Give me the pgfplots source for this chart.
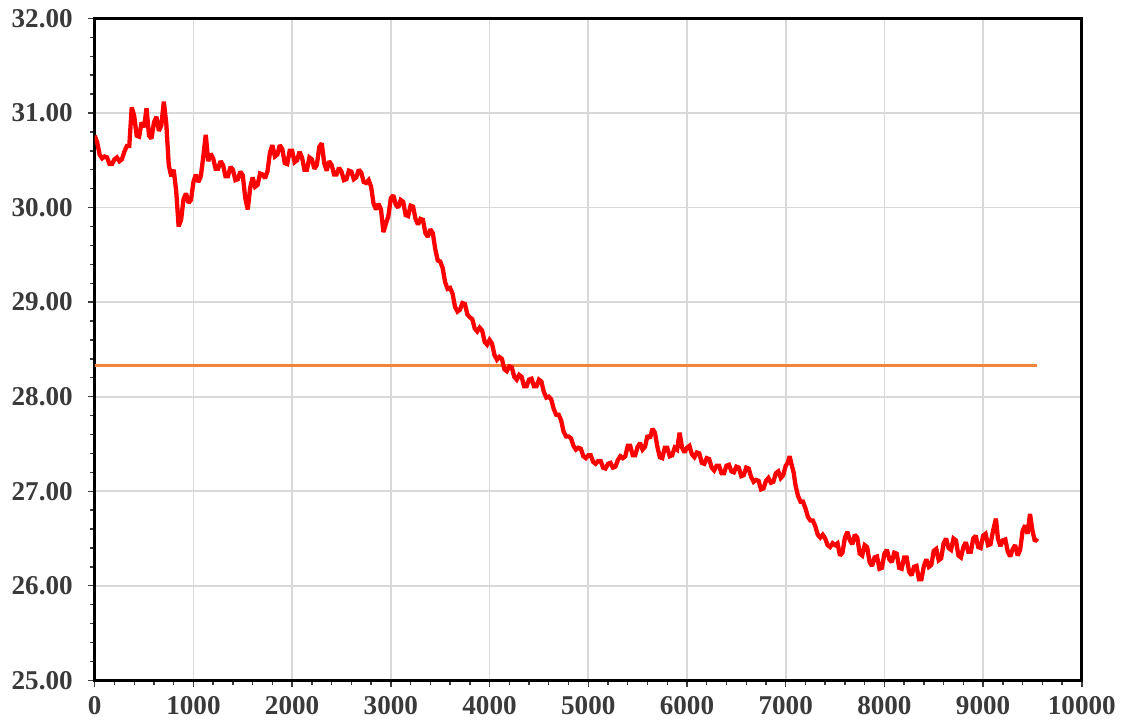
\documentclass[border=0pt]{standalone}
\usepackage{pgfplots}
\pgfplotsset{compat=1.18}
\usepackage{fontspec}
\setmainfont{Liberation Serif}
\definecolor{ticktext}{HTML}{3A3A3A}
\definecolor{gridgray}{HTML}{D9D9D9}
\definecolor{refline}{HTML}{F0843A}
\begin{document}
\begin{tikzpicture}
\begin{axis}[
  scale only axis,
  width=356.4pt, height=239pt,
  xmin=0, xmax=10000, ymin=25, ymax=32,
  xtick={0,1000,...,10000},
  ytick={25,26,...,32},
  scaled x ticks=false,
  minor x tick num=4,
  minor y tick num=4,
  tick align=outside,
  xtick pos=bottom, ytick pos=left,
  major tick length=2.4pt, minor tick length=1.6pt,
  tick style={ticktext, line width=0.5pt},
  grid=major,
  major grid style={gridgray, line width=0.6pt},
  axis line style={black, line width=1pt},
  /pgf/number format/assume math mode=true,
  ticklabel style={font=\fontsize{9.8}{11}\selectfont\bfseries, text=ticktext},
  yticklabel style={xshift=-2pt},
  yticklabel={\pgfmathprintnumber[fixed, fixed zerofill, precision=2]{\tick}},
  xticklabel={\pgfmathprintnumber[fixed, precision=0, 1000 sep={}]{\tick}},
  clip=true,
]
\addplot[refline, line width=1.1pt] coordinates {(0,28.33)(9550,28.33)};
\addplot[red, line width=1.55pt, line join=miter, miter limit=2] coordinates {
(0,30.76)(25,30.69)(50,30.56)(75,30.52)(100,30.54)(125,30.53)(150,30.46)(175,30.46)(200,30.51)(225,30.53)(250,30.49)(275,30.51)(300,30.59)(325,30.65)(350,30.65)(375,31.06)(400,30.97)(425,30.76)(450,30.75)(475,30.90)(500,30.85)(525,31.05)(550,30.76)(575,30.73)(600,30.90)(625,30.96)(650,30.81)(675,30.87)(700,31.12)(725,30.89)(750,30.45)(775,30.33)(800,30.40)(825,30.18)(850,29.80)(875,29.87)(900,30.09)(925,30.15)(950,30.05)(975,30.08)(1000,30.27)(1025,30.35)(1050,30.27)(1075,30.33)(1100,30.54)(1125,30.77)(1150,30.49)(1175,30.57)(1200,30.52)(1225,30.41)(1250,30.41)(1275,30.49)(1300,30.45)(1325,30.33)(1350,30.33)(1375,30.43)(1400,30.40)(1425,30.29)(1450,30.30)(1475,30.38)(1500,30.34)(1525,30.10)(1550,29.98)(1575,30.21)(1600,30.32)(1625,30.22)(1650,30.24)(1675,30.36)(1700,30.35)(1725,30.31)(1750,30.38)(1775,30.58)(1800,30.66)(1825,30.54)(1850,30.56)(1875,30.66)(1900,30.62)(1925,30.47)(1950,30.46)(1975,30.60)(2000,30.60)(2025,30.48)(2050,30.50)(2075,30.59)(2100,30.53)(2125,30.40)(2150,30.40)(2175,30.53)(2200,30.51)(2225,30.41)(2250,30.45)(2275,30.64)(2300,30.68)(2325,30.47)(2350,30.39)(2375,30.49)(2400,30.45)(2425,30.35)(2450,30.35)(2475,30.42)(2500,30.38)(2525,30.29)(2550,30.30)(2575,30.39)(2600,30.38)(2625,30.30)(2650,30.32)(2675,30.40)(2700,30.37)(2725,30.27)(2750,30.26)(2775,30.29)(2800,30.22)(2825,30.04)(2850,29.98)(2875,30.04)(2900,29.98)(2925,29.74)(2950,29.83)(2975,29.91)(3000,30.10)(3025,30.13)(3050,30.03)(3075,30.00)(3100,30.08)(3125,30.06)(3150,29.92)(3175,29.91)(3200,30.02)(3225,30.01)(3250,29.88)(3275,29.82)(3300,29.88)(3325,29.87)(3350,29.73)(3375,29.69)(3400,29.77)(3425,29.73)(3450,29.56)(3475,29.44)(3500,29.43)(3525,29.36)(3550,29.21)(3575,29.14)(3600,29.15)(3625,29.09)(3650,28.95)(3675,28.90)(3700,28.92)(3725,28.99)(3750,28.98)(3775,28.87)(3800,28.84)(3825,28.82)(3850,28.72)(3875,28.69)(3900,28.73)(3925,28.70)(3950,28.58)(3975,28.55)(4000,28.60)(4025,28.56)(4050,28.44)(4075,28.39)(4100,28.42)(4125,28.40)(4150,28.29)(4175,28.27)(4200,28.32)(4225,28.31)(4250,28.21)(4275,28.18)(4300,28.23)(4325,28.21)(4350,28.11)(4375,28.11)(4400,28.18)(4425,28.19)(4450,28.11)(4475,28.11)(4500,28.18)(4525,28.16)(4550,28.05)(4575,27.99)(4600,28.00)(4625,27.97)(4650,27.87)(4675,27.81)(4700,27.81)(4725,27.75)(4750,27.63)(4775,27.58)(4800,27.58)(4825,27.56)(4850,27.48)(4875,27.44)(4900,27.46)(4925,27.45)(4950,27.37)(4975,27.35)(5000,27.38)(5025,27.38)(5050,27.31)(5075,27.29)(5100,27.32)(5125,27.32)(5150,27.25)(5175,27.24)(5200,27.29)(5225,27.30)(5250,27.25)(5275,27.26)(5300,27.33)(5325,27.37)(5350,27.35)(5375,27.37)(5400,27.48)(5425,27.48)(5450,27.38)(5475,27.38)(5500,27.47)(5525,27.51)(5550,27.44)(5575,27.47)(5600,27.59)(5625,27.56)(5650,27.66)(5675,27.62)(5700,27.47)(5725,27.36)(5750,27.35)(5775,27.46)(5800,27.46)(5825,27.37)(5850,27.38)(5875,27.46)(5900,27.44)(5925,27.62)(5950,27.46)(5975,27.41)(6000,27.46)(6025,27.48)(6050,27.39)(6075,27.36)(6100,27.41)(6125,27.40)(6150,27.30)(6175,27.29)(6200,27.35)(6225,27.34)(6250,27.25)(6275,27.22)(6300,27.27)(6325,27.27)(6350,27.19)(6375,27.19)(6400,27.27)(6425,27.28)(6450,27.21)(6475,27.20)(6500,27.26)(6525,27.25)(6550,27.16)(6575,27.17)(6600,27.25)(6625,27.24)(6650,27.15)(6675,27.10)(6700,27.12)(6725,27.11)(6750,27.02)(6775,27.03)(6800,27.11)(6825,27.14)(6850,27.09)(6875,27.10)(6900,27.19)(6925,27.21)(6950,27.14)(6975,27.17)(7000,27.27)(7020,27.30)(7040,27.37)(7060,27.28)(7080,27.20)(7100,27.06)(7125,26.95)(7150,26.89)(7175,26.89)(7200,26.82)(7225,26.73)(7250,26.69)(7275,26.69)(7300,26.63)(7325,26.54)(7350,26.51)(7375,26.54)(7400,26.50)(7425,26.43)(7450,26.41)(7475,26.45)(7500,26.43)(7525,26.45)(7550,26.32)(7575,26.35)(7600,26.51)(7625,26.57)(7650,26.48)(7675,26.44)(7700,26.54)(7725,26.51)(7750,26.34)(7775,26.32)(7800,26.43)(7825,26.41)(7850,26.25)(7875,26.21)(7900,26.30)(7925,26.31)(7950,26.18)(7975,26.19)(8000,26.34)(8025,26.38)(8050,26.28)(8075,26.25)(8100,26.35)(8125,26.34)(8150,26.19)(8175,26.18)(8200,26.30)(8225,26.30)(8250,26.15)(8275,26.11)(8300,26.20)(8325,26.21)(8350,26.07)(8375,26.07)(8400,26.21)(8425,26.28)(8450,26.20)(8475,26.22)(8500,26.37)(8525,26.39)(8550,26.27)(8575,26.29)(8600,26.45)(8625,26.50)(8650,26.40)(8675,26.38)(8700,26.50)(8725,26.48)(8750,26.32)(8775,26.30)(8800,26.41)(8825,26.46)(8850,26.36)(8875,26.36)(8900,26.50)(8925,26.53)(8950,26.41)(8975,26.40)(9000,26.53)(9025,26.55)(9050,26.43)(9075,26.44)(9100,26.58)(9130,26.71)(9150,26.50)(9175,26.42)(9200,26.48)(9225,26.49)(9250,26.36)(9275,26.31)(9300,26.39)(9325,26.43)(9350,26.32)(9375,26.38)(9400,26.58)(9425,26.64)(9450,26.55)(9475,26.76)(9500,26.58)(9525,26.47)(9550,26.50)
};
\end{axis}
\path ([xshift=-34.2pt,yshift=-16.56pt]current axis.south west) rectangle ([xshift=14.4pt,yshift=6.48pt]current axis.north east);
\end{tikzpicture}
\end{document}
